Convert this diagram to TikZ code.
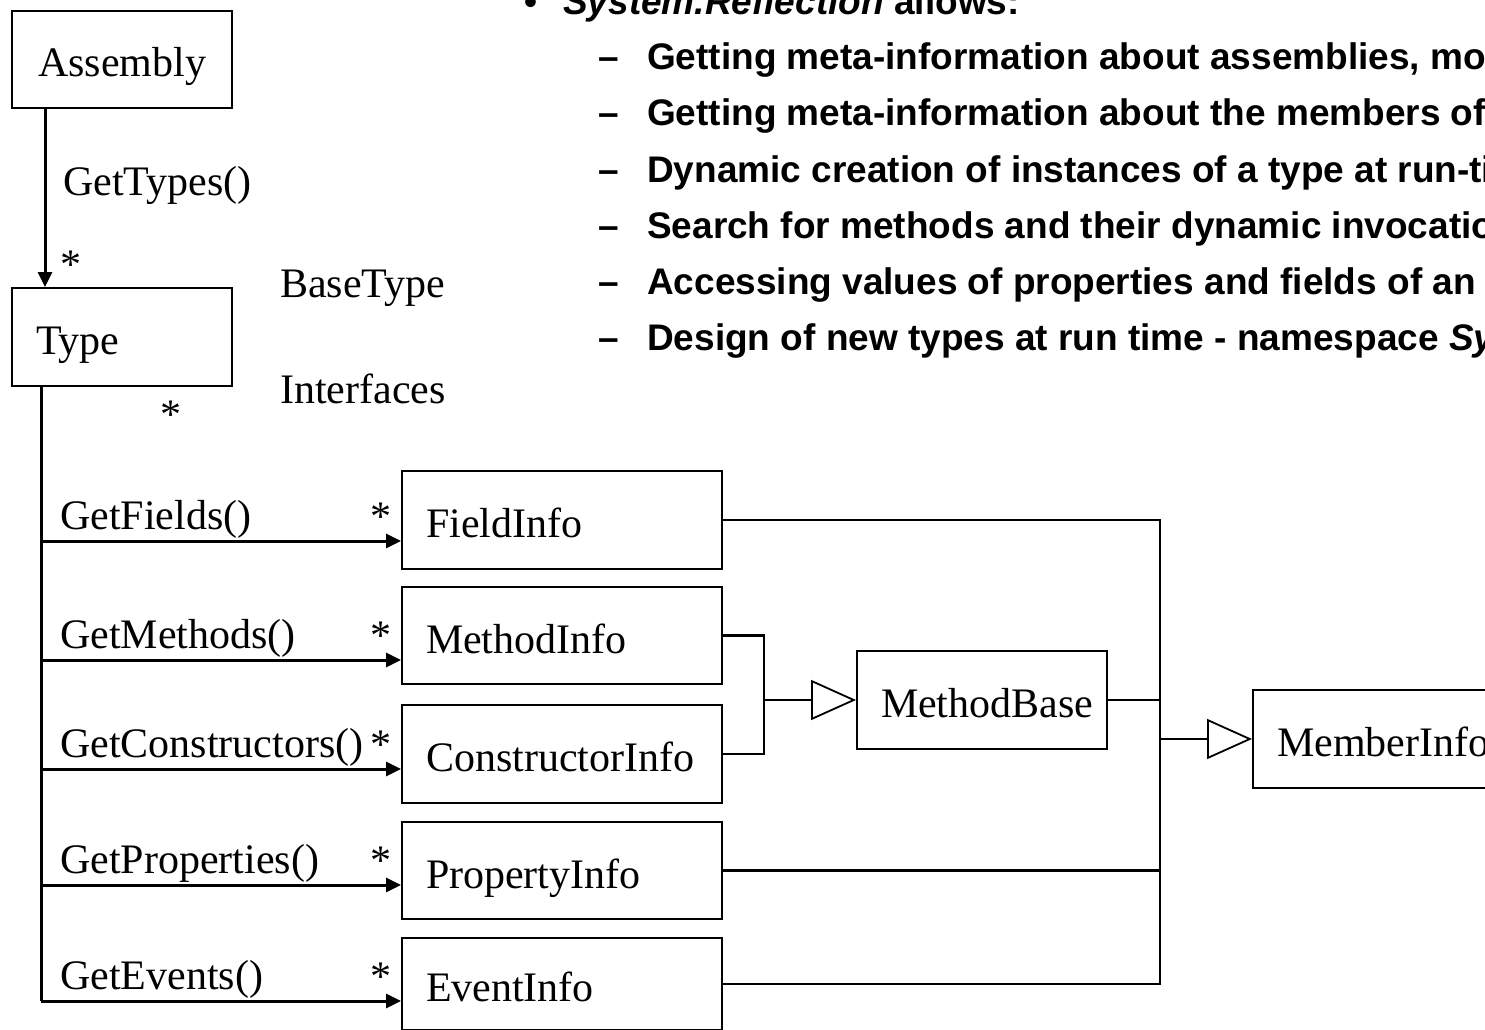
\documentclass[tikz,border=0pt]{standalone}
\usepackage{fontspec}
\setmainfont{Liberation Serif}
\newfontfamily\headfont{Liberation Sans}
\usetikzlibrary{arrows.meta,calc}
\begin{document}
\begin{tikzpicture}[x=1pt,y=-1pt,
  cls/.style={draw, line width=2pt, inner xsep=24pt, inner ysep=0pt,
    align=left, text height=35pt, text depth=0pt, anchor=north west,
    font=\fontsize{42}{48}\selectfont},
  lbl/.style={inner sep=0pt, anchor=base west, font=\fontsize{42}{48}\selectfont},
  bul/.style={inner sep=0pt, anchor=base west, font=\headfont\bfseries\fontsize{37}{44}\selectfont},
  conn/.style={line width=2.5pt},
  trunk/.style={line width=3pt},
  arr/.style={line width=3pt, -{Triangle[length=15pt,width=14pt]}},
  inh/.style={line width=2.5pt, -{Triangle[open,length=45pt,width=40pt,line width=1.8pt]}}
]
\useasboundingbox (0,0) rectangle (1485,1030);
\clip (0,0) rectangle (1485,1030);

% bulleted text block
\node[bul] (b0) at (524,15) {•};
\node[bul] (h0) at (563,15) {\textit{System.Reflection} allows:};
\foreach \i/\t in {
  1/{Getting meta-information about assemblies, modules and types},
  2/{Getting meta-information about the members of a type},
  3/{Dynamic creation of instances of a type at run-time},
  4/{Search for methods and their dynamic invocation at run-time},
  5/{Accessing values of properties and fields of an object},
  6/{Design of new types at run time - namespace \textit{System.Reflection.Emit}}} {
  \node[bul] (d\i) at (598,14+56*\i) {–};
  \node[bul] (l\i) at (647,14+56*\i) {\t};
}

% classes
\node[cls, align=center, text width=172pt, minimum height=97pt] (asm) at (11,10) {Assembly};
\node[cls, text width=172pt, minimum height=98pt] (type) at (11,287) {Type};
\node[cls, text width=272pt, minimum height=98pt] (field) at (401,470) {FieldInfo};
\node[cls, text width=272pt, minimum height=97pt] (minfo) at (401,586) {MethodInfo};
\node[cls, text width=272pt, minimum height=98pt] (cinfo) at (401,704) {ConstructorInfo};
\node[cls, text width=272pt, minimum height=97pt] (pinfo) at (401,821) {PropertyInfo};
\node[cls, text width=272pt, minimum height=92pt] (einfo) at (401,937) {EventInfo};
\node[cls, text width=202pt, minimum height=98pt] (mbase) at (856,650) {MethodBase};
\node[cls, text width=212pt, minimum height=98pt] (member) at (1252,689) {MemberInfo};

% Assembly -> Type
\coordinate (gx) at (45,0);
\draw[arr] (asm.south -| gx) -- (type.north -| gx);
\node[lbl] (gt) at (63,195) {GetTypes()};
\node[lbl] (gtm) at (60,278) {*};
\node[lbl] (base) at (280,297) {BaseType};
\node[lbl] (intf) at (280,403) {Interfaces};
\node[lbl] (tm) at (160,428) {*};

% Type -> member infos
\coordinate (tx) at (41,0);
\coordinate (rF) at (41,541);
\coordinate (rM) at (41,660);
\coordinate (rC) at (41,769);
\coordinate (rP) at (41,885);
\coordinate (rE) at (41,1001);
\draw[trunk] (type.south -| tx) -- (rE);
\foreach \r/\b/\t in {rF/field/GetFields(), rM/minfo/GetMethods(), rC/cinfo/GetConstructors(),
                      rP/pinfo/GetProperties(), rE/einfo/GetEvents()} {
  \draw[arr] (\r) -- (\r -| \b.west);
  \node[lbl] (\r-name) at ($(\r)+(19,-12)$) {\t};
  \node[lbl] (\r-mult) at ($(\r)+(329,-11)$) {*};
}

% generalisations
\coordinate (busM) at (764,0);
\coordinate (busR) at (1160,0);
\draw[conn] (minfo.east) -- (minfo.east -| busM) -- (cinfo.east -| busM) -- (cinfo.east);
\draw[inh] (mbase.west -| busM) -- (mbase.west);
\draw[conn] (field.east) -- (field.east -| busR) -- (einfo.east -| busR) -- (einfo.east);
\draw[conn] (pinfo.east) -- (pinfo.east -| busR);
\draw[conn] (mbase.east) -- (mbase.east -| busR);
\draw[inh] (member.west -| busR) -- (member.west);
\end{tikzpicture}
\end{document}
